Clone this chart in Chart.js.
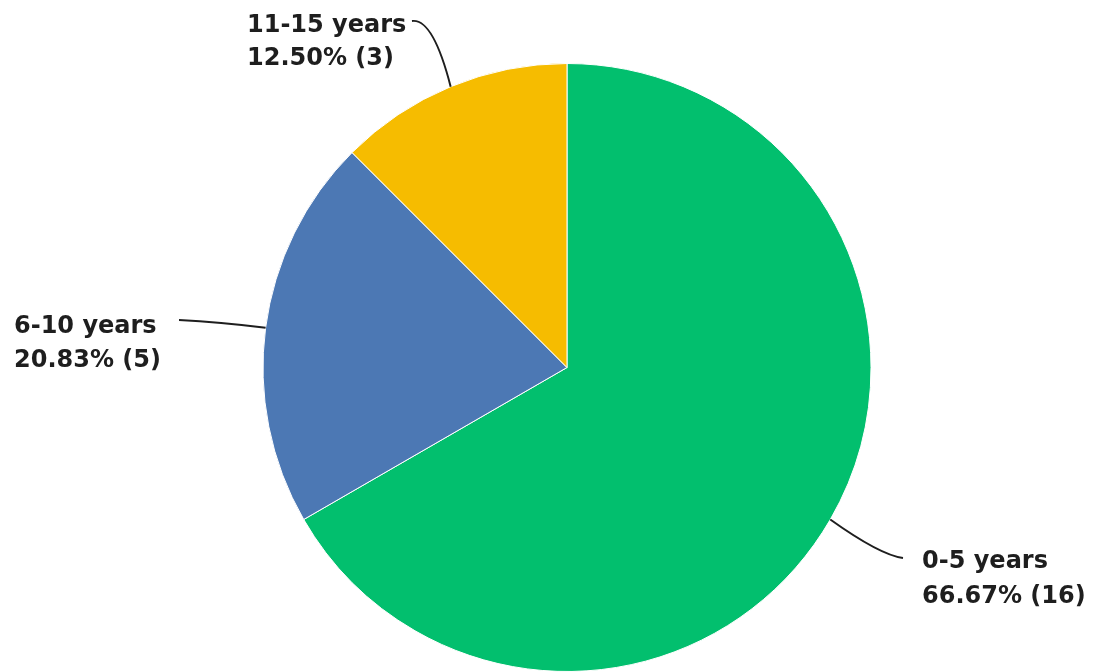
<!DOCTYPE html>
<html>
<head>
<meta charset="utf-8">
<script src="https://cdn.jsdelivr.net/npm/chart.js@4/dist/chart.umd.min.js"></script>
<style>
html,body{margin:0;padding:0;background:#fff;}
#wrap{width:1096px;height:672px;position:relative;}
</style>
</head>
<body>
<div id="wrap"><canvas id="c" width="1096" height="672"></canvas></div>
<script>
const categories = ["0-5 years", "6-10 years", "11-15 years"];
const counts = [16, 5, 3];
const colors = ["#02BF6E", "#4C78B4", "#F6BC00"];

const total = counts.reduce((a, b) => a + b, 0);

// label placement (layout only)
const labelLayout = [
  { x: 922, y1: 568, y2: 603, end: [903, 558], ctrl: [880, 555] },
  { x: 14, y1: 333, y2: 367, end: [179, 320], ctrl: [220, 322] },
  { x: 247, y1: 32, y2: 65, end: [412, 21], ctrl: [433, 18] }
];

const leaderPlugin = {
  id: 'leaders',
  afterDatasetsDraw(chart) {
    const ctx = chart.ctx;
    const meta = chart.getDatasetMeta(0);
    ctx.save();
    meta.data.forEach((arc, i) => {
      const p = arc.getProps(['x', 'y', 'startAngle', 'endAngle', 'outerRadius'], true);
      const mid = (p.startAngle + p.endAngle) / 2;
      const sx = p.x + Math.cos(mid) * p.outerRadius;
      const sy = p.y + Math.sin(mid) * p.outerRadius;
      const L = labelLayout[i];
      ctx.beginPath();
      ctx.moveTo(sx, sy);
      ctx.quadraticCurveTo(L.ctrl[0], L.ctrl[1], L.end[0], L.end[1]);
      ctx.strokeStyle = '#1e1e1e';
      ctx.lineWidth = 2;
      ctx.stroke();
      ctx.fillStyle = '#1e1e1e';
      ctx.font = 'bold 24px "DejaVu Sans"';
      ctx.textAlign = 'left';
      ctx.textBaseline = 'alphabetic';
      ctx.fillText(categories[i], L.x, L.y1);
      const pct = (counts[i] / total * 100).toFixed(2) + '% (' + counts[i] + ')';
      ctx.fillText(pct, L.x, L.y2);
    });
    ctx.restore();
  }
};

new Chart(document.getElementById('c'), {
  type: 'pie',
  data: {
    labels: categories,
    datasets: [{
      data: counts,
      backgroundColor: colors,
      borderColor: '#ffffff',
      borderWidth: 1
    }]
  },
  options: {
    responsive: false,
    animation: false,
    layout: { padding: { left: 262, right: 224, top: 63, bottom: -2 } },
    plugins: { legend: { display: false }, tooltip: { enabled: false } }
  },
  plugins: [leaderPlugin]
});
</script>
</body>
</html>
